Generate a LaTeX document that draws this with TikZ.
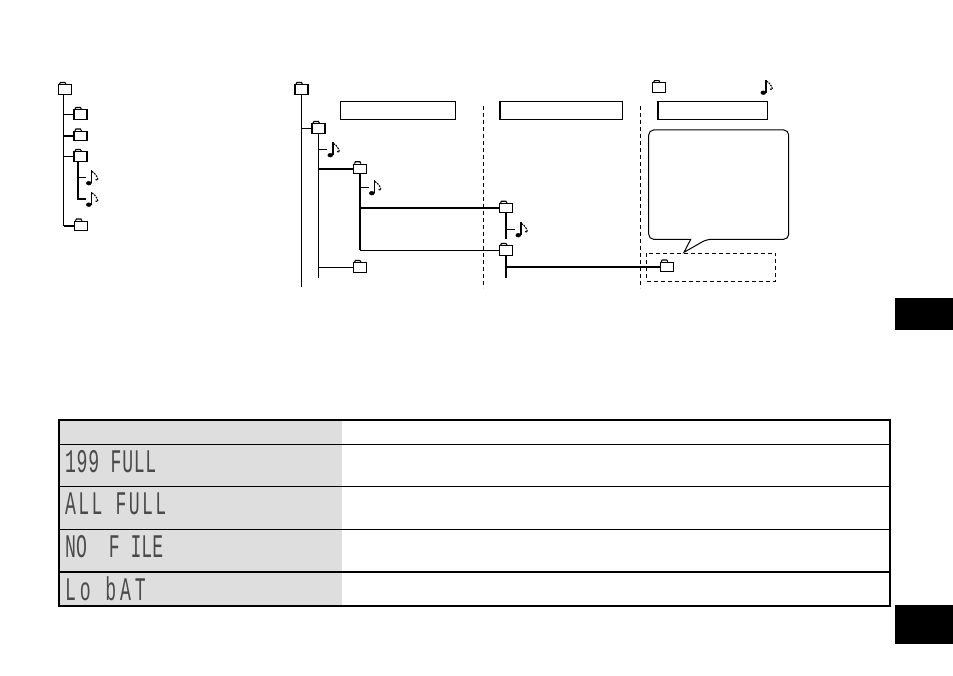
\documentclass[tikz,border=0pt]{standalone}
\usepackage{fontspec}
\newfontfamily\lcdfont[FakeStretch=0.55]{Liberation Mono}
\usetikzlibrary{shapes.geometric, positioning}
\definecolor{cellgrey}{HTML}{DEDEDE}
\definecolor{lcdgrey}{HTML}{4A4A4A}
\tikzset{
  thinline/.style={line width=1pt},
  thickline/.style={line width=2.1pt},
  dashline/.style={line width=0.8pt, dash pattern=on 4pt off 3pt},
  folder/.style={draw, line width=1.1pt, fill=white, minimum width=13pt, minimum height=9.3pt, inner sep=0pt,
    append after command={
      (\tikzlastnode.north west) ++(1.5,0) edge[line width=1.1pt, to path={-- ++(1,-1.8) -- ++(4.5,0) -- ++(1,1.8)}] (\tikzlastnode)}},
  noteicon/.style={minimum width=12pt, minimum height=14pt, inner sep=0pt,
    append after command={
      [every edge/.style={}]
      (\tikzlastnode.center) ++(-0.7,-7) edge[draw, line width=1.4pt] ++(0,13)
      (\tikzlastnode.center) ++(-3.2,5.7) edge[draw, fill=black, to path={circle[x radius=2.5, y radius=1.9]}] (\tikzlastnode)
      (\tikzlastnode.center) ++(0,-6) edge[draw, line width=1.1pt, dash pattern=on 1.8pt off 1pt, to path={.. controls +(3,1) and +(6,3) .. ++(3.5,8)}] (\tikzlastnode)}},
  tagbox/.style={draw, line width=1pt, inner sep=0pt, minimum height=18.4pt},
  lcdtext/.style={anchor=west, inner sep=0pt, text=lcdgrey, font=\lcdfont\fontsize{33}{33}\selectfont},
  blacktab/.style={fill=black, inner sep=0pt, minimum width=58pt},
}
\begin{document}
\begin{tikzpicture}[x=1pt,y=-1pt]
\useasboundingbox (0,0) rectangle (953,676);

% left tree
\node[folder] (rootA) at (65,89.5) {};
\node[folder] (subA) at (80.5,114.5) {};
\node[folder] (subB) at (80.5,136) {};
\node[folder] (subC) at (80.5,156.5) {};
\node[folder] (subD) at (81,226) {};
\node[noteicon] (noteA) at (92,177.5) {};
\node[noteicon] (noteB) at (92,199) {};
\coordinate (trunkA) at (63.5,94);
\coordinate (trunkB) at (78,161);
\draw[thinline] (trunkA) -- (trunkA |- subD.west);
\draw[thinline] (trunkA |- subA.west) -- (subA.west);
\draw[thickline] (trunkA |- subB.west) -- (subB.west);
\draw[thinline] (trunkA |- subC.west) -- (subC.west);
\draw[thickline] (trunkA |- subD.west) -- (subD.west);
\draw[thickline] (trunkB) -- (trunkB |- noteB.west) -- (noteB.west);
\draw[thinline] (trunkB |- noteA.west) -- (noteA.west);

% middle tree
\node[folder] (rootB) at (301.5,89.5) {};
\coordinate (rootBend) at (301.5,287.5);
\node[folder] (albumA) at (318.5,128.5) {};
\coordinate (albumAend) at (318.5,278.5);
\node[folder] (albumB) at (360,168.8) {};
\node[folder] (albumC) at (360,267.5) {};
\node[folder] (albumD) at (506,208.3) {};
\node[folder] (albumE) at (506,250.5) {};
\coordinate (albumDend) at (506,239.5);
\coordinate (albumEend) at (506,278.5);
\node[folder] (albumF) at (666.8,267) {};
\node[noteicon] (noteC) at (333.5,149.5) {};
\node[noteicon] (noteD) at (375,187.5) {};
\node[noteicon] (noteE) at (521.5,229.5) {};
\draw[thinline] (rootB) -- (rootBend);
\draw[thinline] (rootB |- albumA.west) -- (albumA.west);
\draw[thinline] (albumA) -- (albumAend);
\draw[thinline] (albumAend |- noteC.west) -- (noteC.west);
\draw[thickline] (albumAend |- albumB.west) -- (albumB.west);
\draw[thinline] (albumAend |- albumC.west) -- (albumC.west);
\draw[thickline] (albumB) -- (albumB |- albumE.west);
\draw[thinline] (albumB |- noteD.west) -- (noteD.west);
\draw[thickline] (albumB |- albumD.west) -- (albumD.west);
\draw[thinline] (albumB |- albumE.west) -- (albumE.west);
\draw[thickline] (albumD) -- (albumDend);
\draw[thinline] (albumD |- noteE.west) -- (noteE.west);
\draw[thickline] (albumE) -- (albumEend);
\draw[thickline] (albumE |- albumF.west) -- (albumF.west);

% dividers
\coordinate (divAtop) at (483.5,106);
\coordinate (divAend) at (483.5,288);
\coordinate (divBtop) at (640.5,106);
\coordinate (divBend) at (640.5,288);
\draw[dashline] (divAtop) -- (divAend);
\draw[dashline] (divBtop) -- (divBend);

% header boxes and legend
\node[tagbox, minimum width=115.4pt] (tagA) at (398,110.5) {};
\node[tagbox, minimum width=122pt] (tagB) at (561.7,110.5) {};
\node[tagbox, minimum width=109.4pt] (tagC) at (713,110.5) {};
\draw[line width=1.6pt] (tagB.north west) -- (tagB.south west);
\draw[line width=1.6pt] (tagC.north west) -- (tagC.south west);
\node[folder, line width=0.9pt] (legendF) at (659,87.6) {};
\node[noteicon] (legendN) at (766.5,87) {};

% balloon
\draw[line width=1pt, rounded corners=5pt, fill=white] (690.7,239.3) -- (648.7,239.3) -- (648.7,130) -- (788.7,130) -- (788.7,239.3) -- (706.7,239.3) [sharp corners] -- (684,252.3) -- cycle;
\draw[dashline] (646.3,253.3) rectangle (775.7,281);

% table
\fill[cellgrey] (59,420.5) rectangle (342,605.5);
\draw[line width=0.9pt] (59,444.5) -- (890,444.5);
\draw[line width=0.9pt] (59,486.5) -- (890,486.5);
\draw[line width=0.9pt] (59,529.5) -- (890,529.5);
\draw[line width=1.7pt] (59,572) -- (890,572);
\draw[line width=1.7pt] (59,420) rectangle (890,606);
\node[lcdtext] (msgA) at (65,461.5) {\addfontfeature{LetterSpace=2}199 FULL};
\node[lcdtext] (msgB) at (65,504) {\addfontfeature{LetterSpace=7}ALL FULL};
\node[lcdtext] (msgC) at (65,546.5) {NO\ \ F ILE};
\node[lcdtext] (msgD) at (65,589) {\addfontfeature{LetterSpace=11.5}Lo bAT};

% side tabs
\node[blacktab, minimum height=31pt] (tabA) at (924,314) {};
\node[blacktab, minimum height=39pt] (tabB) at (924,624.5) {};
\end{tikzpicture}
\end{document}
